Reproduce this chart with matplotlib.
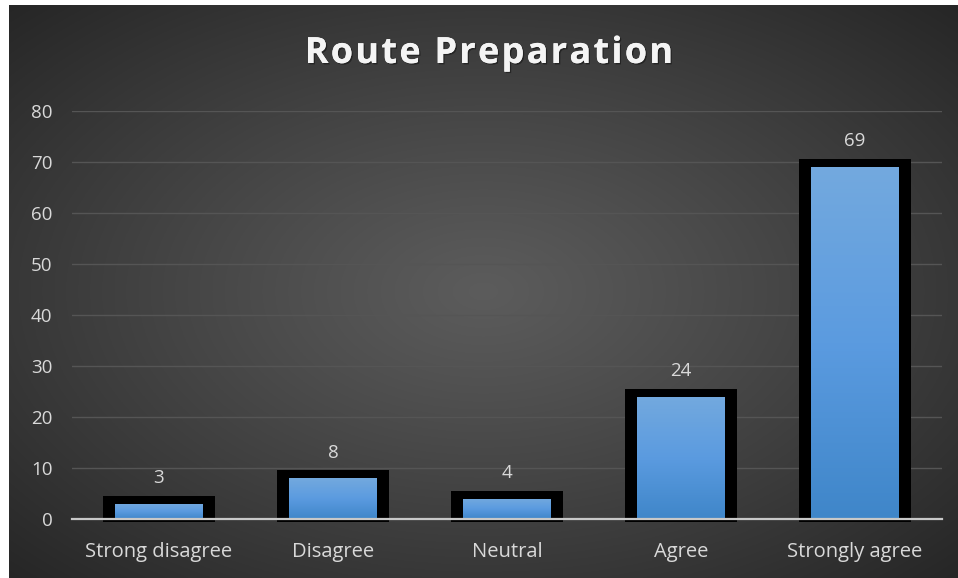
import numpy as np
import matplotlib
matplotlib.use("Agg")
import matplotlib.pyplot as plt
import matplotlib.patheffects as pe
from matplotlib.colors import LinearSegmentedColormap

categories = ["Strong disagree", "Disagree", "Neutral", "Agree", "Strongly agree"]
values = [3, 8, 4, 24, 69]
y_ticks = [0, 10, 20, 30, 40, 50, 60, 70, 80]
title = "Route Preparation"

W, H, DPI = 958, 578, 100
fig = plt.figure(figsize=(W / DPI, H / DPI), dpi=DPI, facecolor="white")

# dark radial backdrop
bg = fig.add_axes([9 / W, 0, (W - 9) / W, (H - 5) / H], zorder=-10)
bg.set_axis_off()
gx, gy = np.meshgrid(np.linspace(-1, 1, 600), np.linspace(-1, 1, 400))
r = np.clip(np.sqrt(gx ** 2 + gy ** 2) / np.sqrt(2), 0, 1)
c_in, c_out = 0.36, 0.15
shade = c_in + (c_out - c_in) * r ** 1.1
bg.imshow(np.dstack([shade] * 3), extent=[0, 1, 0, 1], aspect="auto", origin="lower")
bg.set_xlim(0, 1)
bg.set_ylim(0, 1)

ax = fig.add_axes([72 / W, (H - 519) / H, 870 / W, 408 / H])
ax.set_facecolor("none")
x = np.arange(len(categories))

px_x = 5 / 870   # data units per pixel (x)
px_y = 80 / 408  # data units per pixel (y)
inner_w = 88 * px_x
outer_w = 112 * px_x

# black frames behind each bar
ax.bar(x, [v + 11 * px_y for v in values], width=outer_w,
       bottom=-3 * px_y, color="black", zorder=2, clip_on=False)

# blue gradient fill
cmap = LinearSegmentedColormap.from_list("bl", ["#3f86c9", "#5b9be0", "#73a9de"])
grad = np.linspace(0, 1, 256).reshape(-1, 1)
bars = ax.bar(x, values, width=inner_w, color="#5b9bd5", zorder=3)
for b in bars:
    x0, y0 = b.get_x(), b.get_y()
    im = ax.imshow(grad, cmap=cmap, origin="lower", aspect="auto",
                   extent=[x0, x0 + b.get_width(), y0, y0 + b.get_height()], zorder=4)
    im.set_clip_path(b)
ax.set_xlim(-0.5, len(categories) - 0.5)
ax.set_ylim(0, 80)

# value labels
for xi, v in zip(x, values):
    ax.annotate(str(v), (xi, v), xytext=(0, 12), textcoords="offset points",
                ha="center", va="bottom", color="#d9d9d9", fontsize=13.5,
                family="Open Sans", zorder=5)

ax.set_yticks(y_ticks)
ax.set_xticks(x)
ax.set_xticklabels(categories)
ax.grid(axis="y", color="#555555", linewidth=1)
ax.set_axisbelow(True)
for s in ["top", "right", "left"]:
    ax.spines[s].set_visible(False)
ax.spines["bottom"].set_color("#c8c8c8")
ax.spines["bottom"].set_linewidth(1.6)
ax.spines["bottom"].set_zorder(6)
ax.tick_params(axis="both", length=0, colors="#d9d9d9")
ax.tick_params(axis="y", pad=14, labelsize=13.5)
ax.tick_params(axis="x", pad=16.5, labelsize=14.5)
for lbl in ax.get_xticklabels() + ax.get_yticklabels():
    lbl.set_family("Open Sans")

# letter-spaced title
fig.canvas.draw()
renderer = fig.canvas.get_renderer()
tprops = dict(color="#f4f4f4", fontsize=26, fontweight="bold", family="Open Sans",
              va="center", ha="left",
              path_effects=[pe.withSimplePatchShadow(offset=(1, -1), shadow_rgbFace="black", alpha=0.4),
                            pe.Normal()])
spacing = 2.2  # extra pixels between letters
pieces = []
widths = []
for ch in title:
    t = fig.text(0, 0, ch if ch != " " else "\u00a0", **tprops)
    w = t.get_window_extent(renderer).width
    if ch == " ":
        w = fig.text(0, 0, "a a", **tprops).get_window_extent(renderer).width - \
            fig.text(0, 0, "aa", **tprops).get_window_extent(renderer).width
    pieces.append(t)
    widths.append(w)
for t in fig.texts[:]:
    if t not in pieces:
        t.remove()
total = sum(widths) + spacing * (len(title) - 1)
cx, cy = 489, H - 54
xpos = cx - total / 2
for t, w in zip(pieces, widths):
    t.set_position((xpos / W, cy / H))
    xpos += w + spacing

fig.savefig("out.png", dpi=DPI, facecolor="white")
